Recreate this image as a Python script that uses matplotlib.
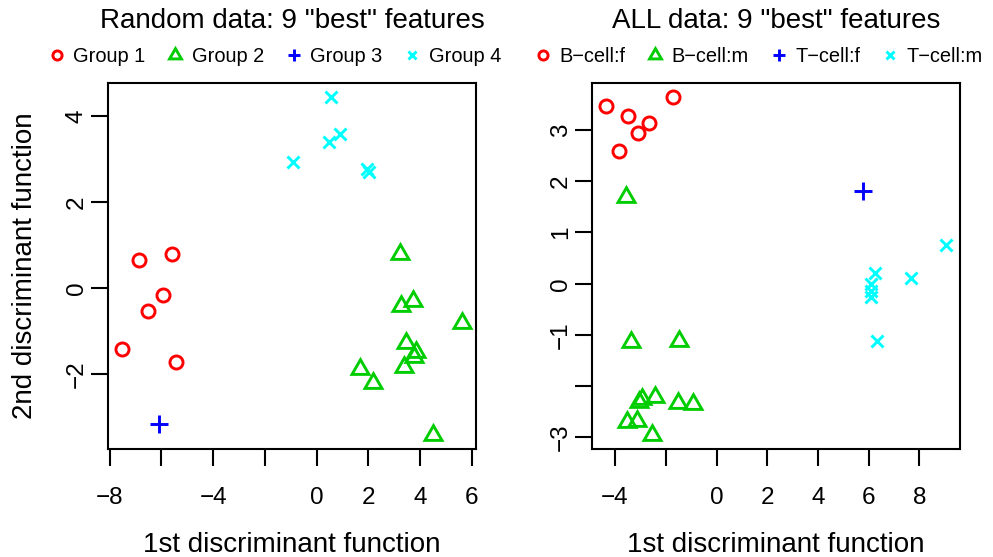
import matplotlib
matplotlib.use("Agg")
import matplotlib.pyplot as plt

plt.rcParams['font.family'] = ['Liberation Sans', 'DejaVu Sans']

# ---------------- data ----------------
# Left panel: Random data
rand_g1_x = [-6.86, -5.61, -5.95, -6.53, -7.54, -5.42]
rand_g1_y = [0.65, 0.79, -0.15, -0.53, -1.42, -1.71]
rand_g2_x = [3.21, 3.72, 3.25, 5.64, 3.46, 3.83, 3.77, 3.37, 1.67, 2.19, 4.49]
rand_g2_y = [0.81, -0.30, -0.42, -0.80, -1.28, -1.48, -1.59, -1.83, -1.88, -2.21, -3.42]
rand_g3_x = [-6.09]
rand_g3_y = [-3.15]
rand_g4_x = [0.56, 0.90, 0.49, -0.91, 1.96, 2.02]
rand_g4_y = [4.46, 3.60, 3.40, 2.94, 2.77, 2.71]
rand_labels = ["Group 1", "Group 2", "Group 3", "Group 4"]

# Right panel: ALL data
all_g1_x = [-4.36, -1.71, -3.50, -2.68, -3.09, -3.86]
all_g1_y = [3.47, 3.65, 3.28, 3.14, 2.94, 2.58]
all_g2_x = [-3.58, -3.37, -1.47, -2.43, -2.95, -3.05, -1.51, -0.92, -3.52, -3.15, -2.56]
all_g2_y = [1.70, -1.14, -1.11, -2.21, -2.25, -2.30, -2.32, -2.35, -2.70, -2.68, -2.96]
all_g3_x = [5.77]
all_g3_y = [1.81]
all_g4_x = [9.06, 6.26, 7.68, 6.07, 6.10, 6.10, 6.32]
all_g4_y = [0.76, 0.21, 0.12, 0.00, -0.14, -0.26, -1.11]
all_labels = ["B\u2212cell:f", "B\u2212cell:m", "T\u2212cell:f", "T\u2212cell:m"]

left_xticks = [-8, -6, -4, -2, 0, 2, 4, 6]
left_xticklabels = ["\u22128", "", "\u22124", "", "0", "2", "4", "6"]
left_yticks = [-2, 0, 2, 4]
left_yticklabels = ["\u22122", "0", "2", "4"]
right_xticks = [-4, -2, 0, 2, 4, 6, 8]
right_xticklabels = ["\u22124", "", "0", "2", "4", "6", "8"]
right_yticks = [-3, -2, -1, 0, 1, 2, 3]
right_yticklabels = ["\u22123", "", "\u22121", "0", "1", "2", "3"]

titles = ['Random data: 9 "best" features', 'ALL data: 9 "best" features']
xlabel = "1st discriminant function"
ylabel = "2nd discriminant function"

# ---------------- style ----------------
colors = ['#FF0000', '#00CD00', '#0000FF', '#00FFFF']
markers = ['o', (3, 0, 0), '+', 'x']
msizes = [9.4, 14.1, 13.0, 9.2]
mew = 2.1

fig = plt.figure(figsize=(9.93, 5.57), dpi=100)
W, H = 993, 557
ax1 = fig.add_axes([108 / W, (H - 449) / H, 368 / W, 366 / H])
ax2 = fig.add_axes([592.3 / W, (H - 449) / H, 367.7 / W, 366 / H])


def draw(ax, xs, ys, labels):
    for i in range(4):
        ax.plot(xs[i], ys[i], linestyle='none', marker=markers[i],
                markersize=msizes[i], markeredgewidth=mew,
                markerfacecolor='none', markeredgecolor=colors[i],
                color=colors[i], label=labels[i])
    ax.margins(0.04)


draw(ax1, [rand_g1_x, rand_g2_x, rand_g3_x, rand_g4_x],
     [rand_g1_y, rand_g2_y, rand_g3_y, rand_g4_y], rand_labels)
draw(ax2, [all_g1_x, all_g2_x, all_g3_x, all_g4_x],
     [all_g1_y, all_g2_y, all_g3_y, all_g4_y], all_labels)

for ax, xt, xtl, yt, ytl, title, lx in [
        (ax1, left_xticks, left_xticklabels, left_yticks, left_yticklabels, titles[0], -0.161),
        (ax2, right_xticks, right_xticklabels, right_yticks, right_yticklabels, titles[1], -0.156)]:
    ax.set_xticks(xt)
    ax.set_xticklabels(xtl)
    ax.set_yticks(yt)
    ax.set_yticklabels(ytl, rotation=90, va='center')
    ax.tick_params(axis='both', direction='out', length=12.5, width=1.5,
                   labelsize=17.5, color='black')
    ax.tick_params(axis='x', pad=15)
    ax.tick_params(axis='y', pad=2)
    for s in ax.spines.values():
        s.set_linewidth(1.5)
    ax.set_title(title, fontsize=20, pad=39.5)
    ax.set_xlabel(xlabel, fontsize=20)
    ax.xaxis.set_label_coords(0.5, -0.227)
    ax.legend(loc='center left', bbox_to_anchor=(lx, 1 + 26 / 366), ncol=4,
              frameon=False, fontsize=14.4, handlelength=0.8,
              handletextpad=0.415, columnspacing=1.1, borderpad=0,
              borderaxespad=0, markerscale=0.7)

ax1.set_ylabel(ylabel, fontsize=20)
ax1.yaxis.set_label_coords(-0.190, 0.5)

fig.savefig("out.png", dpi=100)
